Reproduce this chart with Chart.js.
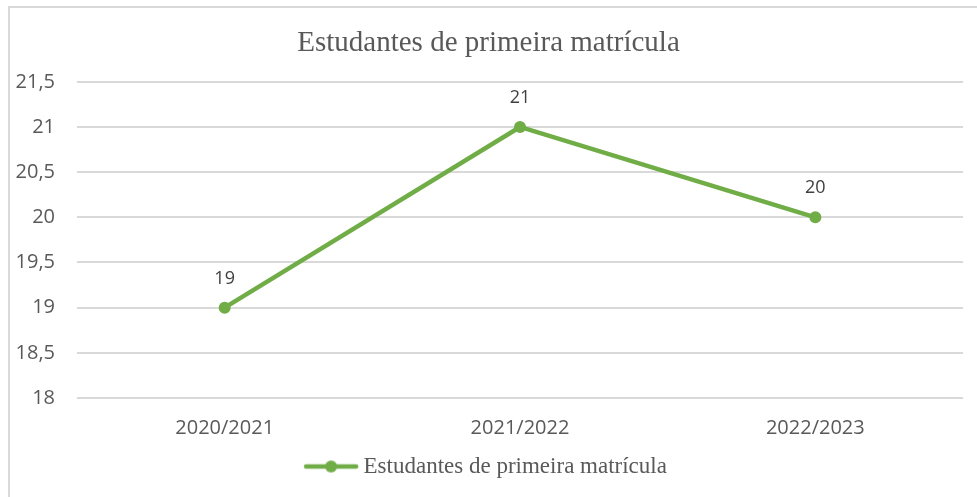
<!DOCTYPE html>
<html>
<head>
<meta charset="utf-8">
<script src="https://cdn.jsdelivr.net/npm/chart.js@4/dist/chart.umd.min.js"></script>
<style>
	html, body { margin: 0; padding: 0; background: #fff; overflow: hidden; width: 977px; height: 497px; }
	#frame { position: absolute; left: 8px; top: 6px; width: 1000px; height: 520px; border: 2px solid #d9d9d9; }
	#wrap { position: absolute; left: 0; top: 0; width: 977px; height: 497px; }
</style>
</head>
<body>
<div id="frame"></div>
<div id="wrap"><canvas id="chart"></canvas></div>
<script>
var title = "Estudantes de primeira matrícula";		// titulo do grafico
var anos = ["2020/2021", "2021/2022", "2022/2023"];		// categorias
var estudantes = [19, 21, 20];							// valores
var yMin = 18, yMax = 21.5, yStep = 0.5;				// eixo vertical

var verde = "#70AD47";

// simbolo da legenda: linha com ponto
function legendSymbol() {
	var c = document.createElement("canvas");
	c.width = 56; c.height = 14;
	var g = c.getContext("2d");
	g.strokeStyle = verde; g.lineWidth = 4.5; g.lineCap = "round";
	g.beginPath(); g.moveTo(3, 7); g.lineTo(53, 7); g.stroke();
	g.fillStyle = verde;
	g.beginPath(); g.arc(28, 7, 6, 0, Math.PI * 2); g.fill();
	return c;
}

// rotulos de dados acima dos pontos
var rotulos = {
	id: "rotulos",
	afterDatasetsDraw: function(chart) {
		var ctx = chart.ctx;
		var meta = chart.getDatasetMeta(0);
		ctx.save();
		ctx.font = "18px 'Open Sans'";
		ctx.fillStyle = "#404040";
		ctx.textAlign = "center";
		ctx.textBaseline = "middle";
		meta.data.forEach(function(p, i) {
			ctx.fillText(String(chart.data.datasets[0].data[i]), p.x, p.y - 29);
		});
		ctx.restore();
	}
};

var ctx = document.getElementById("chart").getContext("2d");
new Chart(ctx, {
	type: "line",
	data: {
		labels: anos,
		datasets: [{
			label: title,
			data: estudantes,
			borderColor: verde,
			backgroundColor: verde,
			borderWidth: 4.5,
			pointRadius: 6,
			pointHoverRadius: 6,
			pointBackgroundColor: verde,
			pointBorderWidth: 0,
			tension: 0
		}]
	},
	options: {
		responsive: true,
		maintainAspectRatio: false,
		animation: false,
		layout: { padding: { left: 14, right: 14, top: 20, bottom: 9 } },
		plugins: {
			title: {
				display: true,
				text: title,
				color: "#595959",
				font: { family: "'Liberation Serif'", size: 29, weight: "normal" },
				padding: { top: 6, bottom: 21 }
			},
			legend: {
				position: "bottom",
				labels: {
					usePointStyle: true,
					pointStyle: legendSymbol(),
					pointStyleWidth: 42,
					color: "#595959",
					font: { family: "'Liberation Serif'", size: 23 },
					padding: 13
				}
			},
			tooltip: { enabled: false }
		},
		scales: {
			x: {
				offset: true,
				grid: { display: false, tickLength: 16 },
				border: { display: false },
				ticks: { color: "#595959", font: { family: "'Open Sans'", size: 20 }, padding: 2 }
			},
			y: {
				min: yMin,
				max: yMax,
				grid: { color: "#d9d9d9", lineWidth: 2, drawTicks: false },
				border: { display: false },
				afterFit: function(s) { s.width = 63; },
				ticks: {
					stepSize: yStep,
					color: "#595959",
					font: { family: "'Open Sans'", size: 20 },
					padding: 22,
					callback: function(v) { return String(v).replace(".", ","); }
				}
			}
		}
	},
	plugins: [rotulos]
});
</script>
</body>
</html>
